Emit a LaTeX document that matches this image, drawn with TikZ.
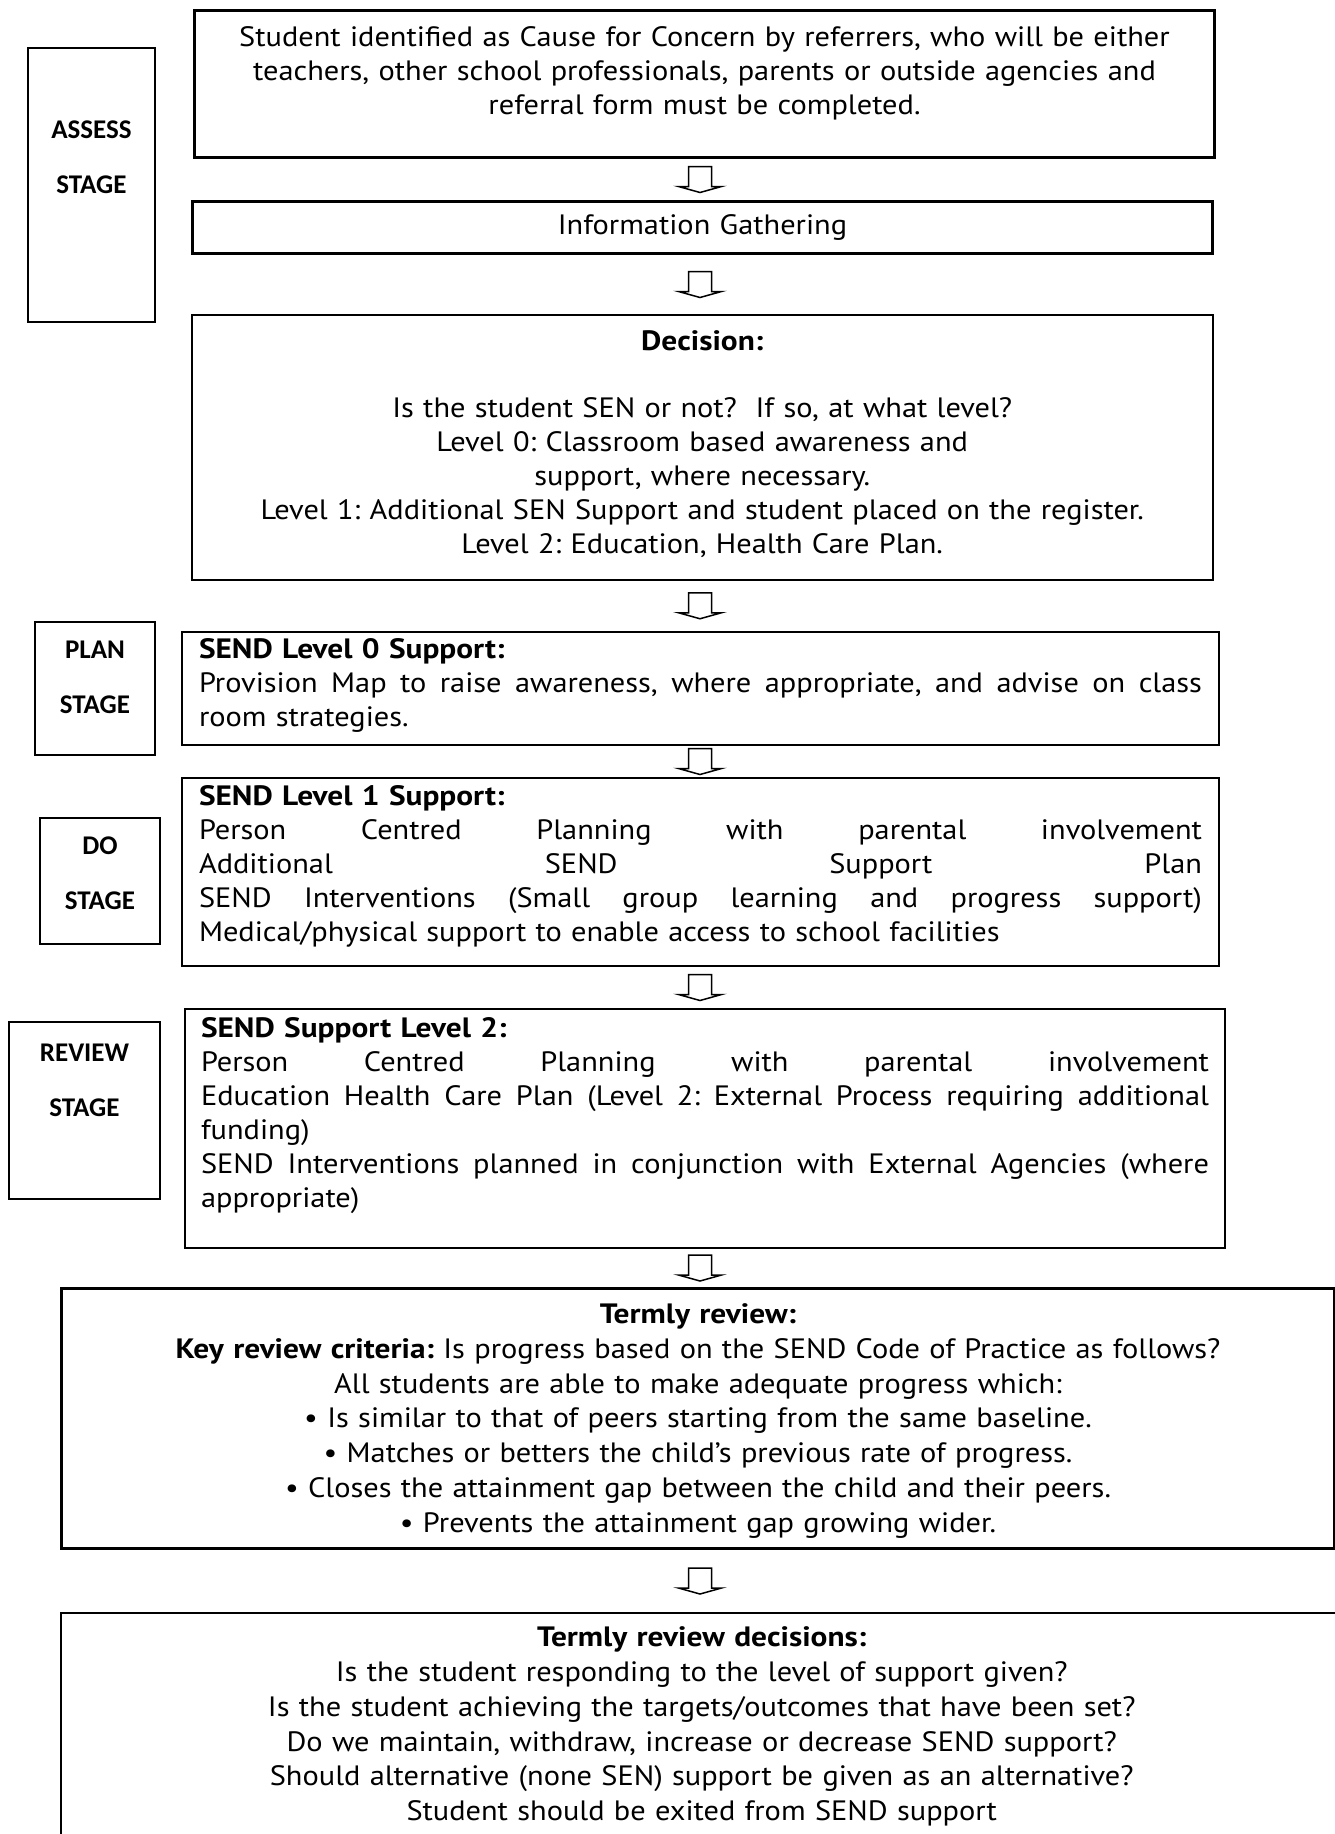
\documentclass[tikz,border=0pt]{standalone}
\usepackage{fontspec}
\setmainfont{PT Sans}[FakeStretch=1.085, BoldFeatures={FakeStretch=1.12}]
\newfontfamily\stagefont{Carlito}
\usetikzlibrary{positioning,calc}

\newcommand{\spreadline}[2][1003pt]{\makebox[#1][s]{\spaceskip=0.25em plus 1fil\relax#2}}

\tikzset{
  flowbox/.style={draw, line width=2pt, inner xsep=16pt, inner ysep=0pt, anchor=north west,
    font=\fontsize{28}{34}\selectfont\frenchspacing},
  heavybox/.style={flowbox, line width=3pt},
  stagebox/.style={draw, line width=2pt, inner sep=0pt, anchor=north west, align=center,
    font=\stagefont\bfseries\fontsize{27}{55}\selectfont},
  pics/downarrow/.style={code={
    \draw[line width=1.5pt] (-11.5,-13) -- (-11.5,7) -- (-21.5,7) -- (0,13)
      -- (21.5,7) -- (11.5,7) -- (11.5,-13) -- cycle;}}
}

\begin{document}
\begin{tikzpicture}[x=1pt, y=-1pt]
  \useasboundingbox (0,0) rectangle (1335,1834);
  \clip (0,0) rectangle (1335,1834);

  \node (assess) [stagebox, text width=127pt, text height=90pt, text depth=184pt] at (27,47) {ASSESS\\STAGE};
  \node (plan) [stagebox, text width=120pt, text height=36pt, text depth=97pt] at (34,621) {PLAN\\STAGE};
  \node (do) [stagebox, text width=120pt, text height=36pt, text depth=90pt] at (39,817) {DO\\STAGE};
  \node (review) [stagebox, text width=151pt, text height=39pt, text depth=138pt] at (8,1021) {REVIEW\\STAGE};

  \node (referral) [heavybox, text width=988pt, align=center, text height=36pt, text depth=111pt] at (193,9)
    {Student identified as Cause for Concern by referrers, who will be either\\teachers, other school professionals, parents or outside agencies and\\referral form must be completed.};
  \node (info) [heavybox, text width=988pt, align=center, text height=33pt, text depth=19pt] at (191,200)
    {Information Gathering};
  \node (decision) [flowbox, line width=1.5pt, text width=989pt, align=center, text height=36pt, text depth=229pt] at (191,314)
    {\textbf{Decision:}\\[33pt]
     Is the student SEN or not?\ \ If so, at what level?\\
     Level 0: Classroom based awareness and\\
     support, where necessary.\\
     Level 1: Additional SEN Support and student placed on the register.\\
     Level 2: Education, Health Care Plan.};
  \node (level0) [flowbox, inner xsep=17pt, text width=1003pt, align=left, text height=26pt, text depth=87pt] at (181,631)
    {\textbf{SEND Level 0 Support:}\\
     \spreadline{Provision Map to raise awareness, where appropriate, and advise on class}\\
     room strategies.};
  \node (level1) [flowbox, inner xsep=17pt, text width=1003pt, align=left, text height=27pt, text depth=161pt] at (181,777)
    {\textbf{SEND Level 1 Support:}\\
     \spreadline{Person Centred Planning with parental involvement}\\
     \spreadline{Additional SEND Support Plan}\\
     \spreadline{SEND Interventions (Small group learning and progress support)}\\
     Medical/physical support to enable access to school facilities};
  \node (level2) [flowbox, text width=1008pt, align=left, text height=28pt, text depth=211pt] at (184,1008)
    {\textbf{SEND Support Level 2:}\\
     \spreadline[1008pt]{Person Centred Planning with parental involvement}\\
     \spreadline[1008pt]{Education Health Care Plan (Level 2: External Process requiring additional}\\
     funding)\\
     \spreadline[1008pt]{SEND Interventions planned in conjunction with External Agencies (where}\\
     appropriate)};
  \node (termly) [heavybox, font=\fontsize{28}{34.8}\selectfont\frenchspacing, text width=1241pt, align=center, text height=35pt, text depth=225pt] at (60,1287)
    {\textbf{Termly review:}\\
     \textbf{Key review criteria:} Is progress based on the SEND Code of Practice as follows?\\
     All students are able to make adequate progress which:\\
     • Is similar to that of peers starting from the same baseline.\\
     • Matches or betters the child’s previous rate of progress.\\
     • Closes the attainment gap between the child and their peers.\\
     • Prevents the attainment gap growing wider.};
  \node (decisions) [flowbox, line width=1.5pt, font=\fontsize{28}{34.8}\selectfont\frenchspacing, text width=1250pt, align=center, text height=34pt, text depth=240pt] at (60,1612)
    {\textbf{Termly review decisions:}\\
     Is the student responding to the level of support given?\\
     Is the student achieving the targets/outcomes that have been set?\\
     Do we maintain, withdraw, increase or decrease SEND support?\\
     Should alternative (none SEN) support be given as an alternative?\\
     Student should be exited from SEND support};

  \coordinate (spine) at (700,0);
  \foreach \a/\b in {referral/info, info/decision, decision/level0, level0/level1,
                     level1/level2, level2/termly, termly/decisions} {
    \coordinate (mid) at ($(\a.south)!.5!(\b.north)$);
    \pic at (spine |- mid) {downarrow};
  }
\end{tikzpicture}
\end{document}
